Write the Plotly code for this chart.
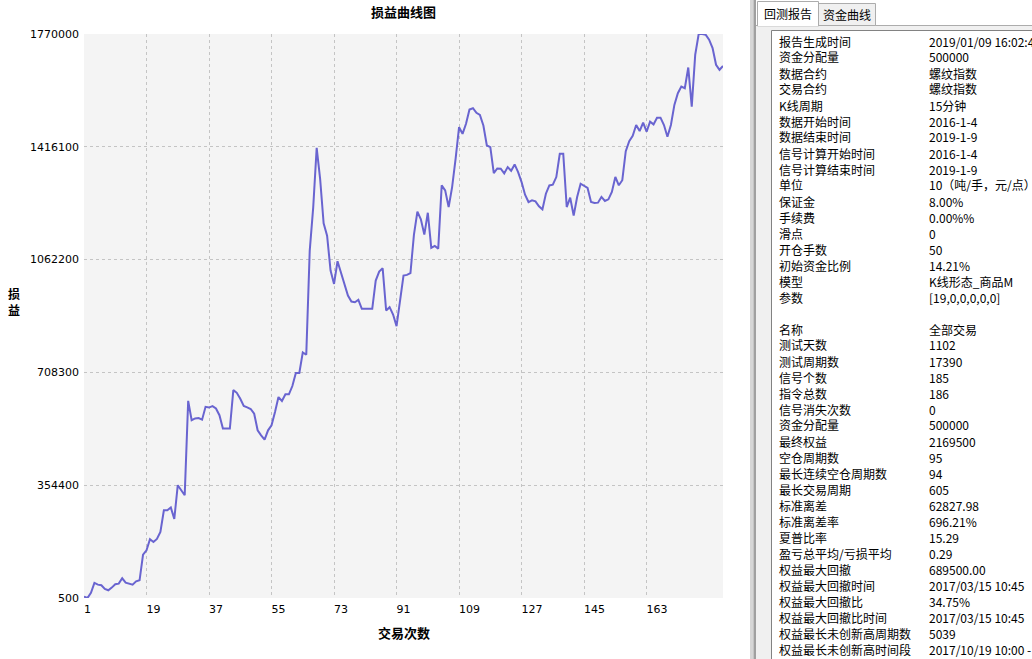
import plotly.graph_objects as go

# ---------------- data ----------------
trades = list(range(1, 186))
equity = [
    5000, 500, 17000, 47700, 42500, 40400, 28900, 24700, 33100, 43500,
    45600, 62400, 48800, 46700, 42500, 52900, 56100, 136700, 150300, 184800,
    176400, 185900, 207800, 275900, 275900, 284300, 248700, 354400, 338700, 323000,
    619100, 558500, 563800, 565000, 560000, 600300, 598000, 602500, 595200, 574000,
    532400, 532400, 532400, 652700, 644200, 625800, 602800, 598600, 593400, 578800,
    526600, 510900, 497400, 526600, 542300, 584000, 631000, 618500, 639400, 639400,
    665500, 706300, 706300, 771000, 763600, 1090400, 1226100, 1413000, 1314800, 1176000,
    1137400, 1027700, 986000, 1057000, 1020400, 991200, 949400, 930600, 928500, 935800,
    907700, 907700, 908700, 907700, 996400, 1024600, 1035000, 902500, 913000, 890000,
    853400, 940000, 1012000, 1014200, 1020000, 1140000, 1212500, 1188500, 1140500, 1209200,
    1098700, 1105000, 1096600, 1295000, 1279300, 1227100, 1289800, 1378500, 1477700, 1456800,
    1488200, 1533000, 1537200, 1522600, 1516300, 1482900, 1420300, 1415100, 1333600, 1348200,
    1347200, 1332600, 1352400, 1340900, 1360800, 1336800, 1305400, 1265800, 1242800, 1248000,
    1244900, 1229200, 1219800, 1268900, 1295000, 1297100, 1321100, 1394200, 1394200, 1227100,
    1256400, 1200000, 1258500, 1300200, 1293300, 1287000, 1242900, 1239800, 1240800, 1258700,
    1246000, 1251300, 1274400, 1321600, 1295400, 1311200, 1402500, 1434000, 1450800, 1484400,
    1465500, 1491800, 1463400, 1494900, 1486500, 1507500, 1507500, 1484400, 1447700, 1484400,
    1547400, 1584200, 1605200, 1600000, 1665000, 1542200, 1705000, 1770000, 1770000, 1767900,
    1752200, 1725900, 1673400, 1657700, 1669500,
]
x_tickvals = [1, 19, 37, 55, 73, 91, 109, 127, 145, 163, 185]
x_ticktext = ["1", "19", "37", "55", "73", "91", "109", "127", "145", "163", ""]
y_tickvals = [500, 354400, 708300, 1062200, 1416100, 1770000]
y_ticktext = ["500", "354400", "708300", "1062200", "1416100", "1770000"]

title_text = "损益曲线图"
x_title = "交易次数"
y_title = "损益"

tab_labels = ["回测报告", "资金曲线"]

report_labels_1 = ["报告生成时间", "资金分配量", "数据合约", "交易合约", "K线周期", "数据开始时间",
                   "数据结束时间", "信号计算开始时间", "信号计算结束时间", "单位", "保证金", "手续费",
                   "滑点", "开仓手数", "初始资金比例", "模型", "参数"]
report_values_1 = ["2019/01/09 16:02:4", "500000", "螺纹指数", "螺纹指数", "15分钟", "2016-1-4",
                   "2019-1-9", "2016-1-4", "2019-1-9", "10（吨/手，元/点）", "8.00%", "0.00%%",
                   "0", "50", "14.21%", "K线形态_商品M", "[19,0,0,0,0,0]"]
report_labels_2 = ["名称", "测试天数", "测试周期数", "信号个数", "指令总数", "信号消失次数", "资金分配量",
                   "最终权益", "空仓周期数", "最长连续空仓周期数", "最长交易周期", "标准离差", "标准离差率",
                   "夏普比率", "盈亏总平均/亏损平均", "权益最大回撤", "权益最大回撤时间", "权益最大回撤比",
                   "权益最大回撤比时间", "权益最长未创新高周期数", "权益最长未创新高时间段"]
report_values_2 = ["全部交易", "1102", "17390", "185", "186", "0", "500000", "2169500", "95", "94",
                   "605", "62827.98", "696.21%", "15.29", "0.29", "689500.00", "2017/03/15 10:45",
                   "34.75%", "2017/03/15 10:45", "5039", "2017/10/19 10:00 -"]

# ---------------- layout helpers ----------------
FW, FH = 1032, 659
L, R, T, B = 84, 723, 34, 598
PW, PH = R - L, B - T


def px(x):
    return (x - L) / PW


def py(y):
    return (B - y) / PH


CJK = "Noto Sans CJK SC"

fig = go.Figure()
fig.add_trace(go.Scatter(
    x=trades, y=equity, mode="lines",
    line=dict(color="#6964d0", width=2),
    hoverinfo="skip", showlegend=False,
))

shapes = []
annotations = []

# right panel background + splitter
shapes.append(dict(type="rect", xref="paper", yref="paper", x0=px(756), x1=px(1040), y0=py(670), y1=py(-5),
                   fillcolor="#f0f0f0", line=dict(width=0), layer="above"))
shapes.append(dict(type="rect", xref="paper", yref="paper", x0=px(750), x1=px(753.5), y0=py(670), y1=py(-5),
                   fillcolor="#d6d6d6", line=dict(width=0), layer="above"))
shapes.append(dict(type="rect", xref="paper", yref="paper", x0=px(753.5), x1=px(756), y0=py(670), y1=py(-5),
                   fillcolor="#a0a0a0", line=dict(width=0), layer="above"))
# tab strip: top area white
shapes.append(dict(type="rect", xref="paper", yref="paper", x0=px(756), x1=px(1040), y0=py(25), y1=py(-5),
                   fillcolor="#ffffff", line=dict(width=0), layer="above"))
shapes.append(dict(type="line", xref="paper", yref="paper", x0=px(756), x1=px(1040), y0=py(25.5), y1=py(25.5),
                   line=dict(color="#acacac", width=1), layer="above"))
# unselected tab
shapes.append(dict(type="rect", xref="paper", yref="paper", x0=px(818.5), x1=px(875.5), y0=py(25.5), y1=py(3.5),
                   fillcolor="#f0f0f0", line=dict(color="#acacac", width=1), layer="above"))
# selected tab
shapes.append(dict(type="rect", xref="paper", yref="paper", x0=px(757.5), x1=px(818.5), y0=py(26), y1=py(1.5),
                   fillcolor="#ffffff", line=dict(color="#acacac", width=1), layer="above"))
shapes.append(dict(type="line", xref="paper", yref="paper", x0=px(758), x1=px(818), y0=py(25.5), y1=py(25.5),
                   line=dict(color="#ffffff", width=1.5), layer="above"))
# content box
shapes.append(dict(type="rect", xref="paper", yref="paper", x0=px(771.5), x1=px(1045), y0=py(680), y1=py(30.5),
                   fillcolor="#ffffff", line=dict(color="#828282", width=1), layer="above"))

annotations.append(dict(text=tab_labels[0], xref="paper", yref="paper", x=px(788), y=py(13.5),
                        xanchor="center", yanchor="middle", showarrow=False,
                        font=dict(family=CJK, size=12, color="#000000")))
annotations.append(dict(text=tab_labels[1], xref="paper", yref="paper", x=px(847), y=py(14.5),
                        xanchor="center", yanchor="middle", showarrow=False,
                        font=dict(family=CJK, size=12, color="#000000")))

row_font = dict(family=CJK, size=12, color="#000000")
for k, (lab, val) in enumerate(zip(report_labels_1, report_values_1)):
    yy = 41 + 16 * k
    annotations.append(dict(text=lab, xref="paper", yref="paper", x=px(777), y=py(yy),
                            xanchor="left", yanchor="middle", showarrow=False, font=row_font))
    annotations.append(dict(text=val, xref="paper", yref="paper", x=px(927), y=py(yy),
                            xanchor="left", yanchor="middle", showarrow=False, font=row_font))
for k, (lab, val) in enumerate(zip(report_labels_2, report_values_2)):
    yy = 329 + 16 * k
    annotations.append(dict(text=lab, xref="paper", yref="paper", x=px(777), y=py(yy),
                            xanchor="left", yanchor="middle", showarrow=False, font=row_font))
    annotations.append(dict(text=val, xref="paper", yref="paper", x=px(927), y=py(yy),
                            xanchor="left", yanchor="middle", showarrow=False, font=row_font))

# y axis title (characters stacked vertically)
annotations.append(dict(text="<b>" + "<br>".join(list(y_title)) + "</b>", xref="paper", yref="paper",
                        x=px(14), y=py(301), xanchor="center", yanchor="middle", showarrow=False,
                        font=dict(family=CJK, size=12, color="#000000")))
# x axis title
annotations.append(dict(text="<b>" + x_title + "</b>", xref="paper", yref="paper",
                        x=px(404), y=py(632), xanchor="center", yanchor="middle", showarrow=False,
                        font=dict(family=CJK, size=13, color="#000000")))

fig.update_layout(
    width=FW, height=FH,
    margin=dict(l=L, r=FW - R, t=T, b=FH - B, pad=0),
    paper_bgcolor="#ffffff",
    plot_bgcolor="#f4f4f4",
    title=dict(text="<b>" + title_text + "</b>", x=0.5, xref="paper", xanchor="center",
               y=1 - 12 / FH, yref="container", yanchor="middle",
               font=dict(family=CJK, size=13, color="#000000")),
    xaxis=dict(
        range=[1, 185], tickvals=x_tickvals, ticktext=x_ticktext,
        ticklabelposition="outside right", ticks="", ticklabelstandoff=3,
        showgrid=True, gridcolor="#c4c4c4", griddash="3px,3px", gridwidth=1,
        zeroline=False, showline=False,
        tickfont=dict(family="DejaVu Sans", size=11, color="#000000"),
    ),
    yaxis=dict(
        range=[500, 1770000], tickvals=y_tickvals, ticktext=y_ticktext,
        ticks="", ticklabelstandoff=4,
        showgrid=True, gridcolor="#c4c4c4", griddash="3px,3px", gridwidth=1,
        zeroline=False, showline=False,
        tickfont=dict(family="DejaVu Sans", size=11, color="#000000"),
    ),
    shapes=shapes,
    annotations=annotations,
    hovermode=False,
)

fig.write_html(
    "out.html",
    config={"displayModeBar": False, "staticPlot": True},
    post_script="document.body.style.margin='0';document.body.style.overflow='hidden';",
)
